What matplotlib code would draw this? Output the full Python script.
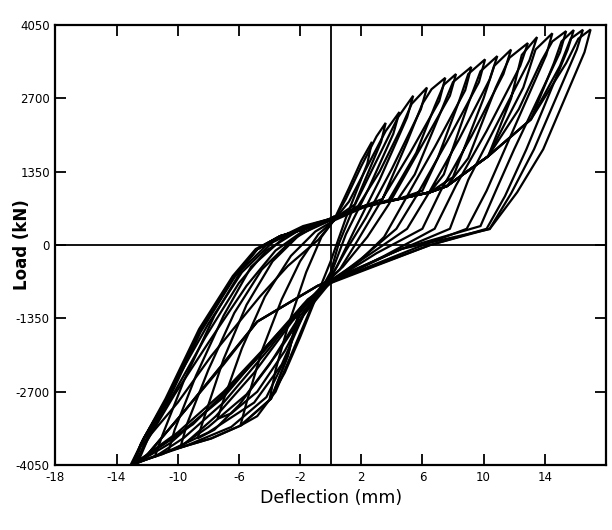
import matplotlib
matplotlib.use("Agg")
import matplotlib.pyplot as plt

plt.rcParams['axes.unicode_minus'] = False
plt.rcParams['font.family'] = ['DejaVu Sans']

# deflection (mm) / load (kN) vertices of each load cycle
cycle_x = [
    [0.2, 1.2, 2.0, 2.7, 2.4, 1.0, 0.0, -1.0, -2.0, -3.0, -4.0, -3.6, -2.8, -1.6, -0.6, 0.2],
    [0.2, 1.0, 2.0, 3.0, 3.6, 3.3, 1.8, 0.5, 0.0, -1.2, -2.4, -3.6, -4.8, -5.9, -5.5, -4.5, -3.2, -2.0, -0.8, 0.2],
    [0.2, 1.2, 2.4, 3.6, 4.5, 4.1, 2.5, 1.0, 0.0, -1.5, -3.0, -4.8, -6.5, -7.4, -7.0, -5.8, -4.3, -2.6, -1.0, 0.2],
    [0.2, 1.6, 3.0, 4.4, 5.4, 5.0, 3.2, 1.6, 0.4, -0.2, -2.0, -4.0, -6.0, -7.6, -8.7, -8.3, -7.0, -5.5, -3.8, -2.0, 0.2],
    [0.2, 1.8, 3.2, 4.6, 5.3, 6.3, 5.9, 4.0, 2.3, 1.0, 0.0, -1.6, -3.5, -5.5, -8.0, -9.8, -9.4, -8.0, -6.3, -4.5, -2.5, -0.8, 0.2],
    [0.2, 2.0, 3.4, 5.0, 6.0, 6.6, 7.5, 7.1, 5.2, 3.1, 1.8, 0.6, -0.3, -2.5, -5.0, -7.5, -9.5, -10.6, -10.2, -8.8, -7.0, -5.2, -3.0, -1.0, 0.2],
    [0.2, 2.2, 3.8, 5.6, 6.8, 7.4, 8.2, 7.8, 5.8, 3.8, 2.4, 0.8, -0.4, -2.2, -4.5, -7.5, -10.5, -12.6, -12.0, -10.2, -8.0, -5.5, -3.6, -1.6, 0.2],
    [0.2, 2.2, 4.4, 5.5, 7.2, 8.0, 9.2, 8.8, 6.8, 4.8, 3.5, 1.5, 0.0, -1.8, -4.0, -7.0, -9.6, -11.5, -11.0, -9.6, -7.6, -5.8, -4.0, -1.8, 0.2],
    [0.2, 2.2, 4.4, 6.0, 7.0, 8.4, 9.0, 10.1, 9.7, 7.6, 5.6, 4.3, 2.0, 0.0, -2.0, -2.8, -4.2, -6.5, -9.5, -12.8, -12.0, -10.6, -8.5, -6.3, -4.8, -3.3, -1.1, 0.2],
    [0.2, 2.2, 4.4, 6.5, 7.4, 9.0, 9.8, 10.9, 10.4, 8.4, 6.4, 5.0, 2.4, 0.0, -0.85, -4.8, -7.0, -9.6, -12.2, -13.0, -12.2, -10.7, -8.5, -6.3, -4.8, -3.3, -1.1, 0.2],
    [0.2, 2.2, 4.4, 6.5, 8.0, 10.0, 10.7, 11.8, 11.3, 9.2, 7.2, 6.0, 3.0, 0.0, -1.2, -3.5, -6.0, -9.0, -12.9, -12.4, -10.4, -8.2, -6.0, -4.2, -2.2, 0.2],
    [0.2, 2.2, 4.4, 6.5, 7.6, 9.0, 10.8, 11.7, 12.9, 12.4, 10.2, 8.2, 6.8, 3.5, 0.0, -1.5, -4.0, -7.0, -10.0, -12.9, -12.4, -10.0, -7.8, -4.6, -2.8, -0.8, 0.2],
    [0.2, 2.2, 4.4, 6.5, 7.6, 10.3, 11.8, 12.5, 13.5, 13.0, 11.0, 9.0, 7.8, 4.0, 0.0, -2.0, -2.8, -3.9, -5.9, -7.8, -10.7, -13.0, -12.2, -10.7, -8.5, -6.3, -4.8, -3.3, -1.1, 0.2],
    [0.2, 2.2, 4.4, 6.5, 7.6, 10.3, 12.6, 13.4, 14.5, 14.1, 11.6, 10.2, 8.9, 5.5, 0.0, -1.8, -3.2, -5.0, -8.0, -11.0, -12.7, -12.1, -10.3, -8.0, -5.8, -3.8, -1.8, 0.2],
    [0.2, 2.2, 4.4, 6.5, 7.6, 10.3, 12.3, 13.8, 14.5, 15.4, 15.0, 12.0, 10.8, 9.8, 4.6, 0.0, -0.85, -4.8, -9.6, -12.2, -13.0, -12.3, -10.8, -8.6, -6.4, -4.9, -3.3, -1.1, 0.2],
    [0.2, 2.2, 4.4, 6.5, 7.6, 10.3, 13.1, 14.6, 15.1, 15.9, 15.5, 12.8, 11.4, 10.2, 6.5, 0.0, -1.5, -4.0, -7.0, -10.0, -12.9, -12.3, -10.7, -8.5, -6.3, -4.8, -3.3, -1.1, 0.2],
    [0.2, 2.2, 4.4, 6.5, 7.6, 10.3, 13.1, 15.0, 15.7, 16.5, 16.1, 13.3, 11.8, 10.4, 6.5, 0.0, -2.0, -2.8, -3.9, -5.9, -7.8, -10.7, -13.0, -12.2, -10.7, -8.5, -6.3, -4.8, -3.3, -1.1, 0.2],
    [0.2, 2.2, 4.4, 6.5, 7.6, 10.3, 13.1, 15.4, 16.2, 17.0, 16.6, 13.9, 12.2, 10.4, 4.6, 0.0, -0.85, -4.8, -9.6, -12.2, -13.1, -12.2, -10.7, -8.5, -6.3, -4.8, -3.3, -1.1, 0.2],
]
cycle_y = [
    [450, 1050, 1550, 1900, 1500, 500, -300, -1000, -1700, -2350, -2850, -2300, -1500, -500, 150, 450],
    [450, 850, 1450, 2000, 2250, 1900, 900, 0, -500, -1100, -1900, -2700, -3150, -3325, -2900, -1950, -1000, -300, 200, 450],
    [450, 800, 1450, 2100, 2450, 2050, 1050, 200, -550, -1150, -1950, -2700, -3100, -3200, -2850, -1900, -950, -200, 250, 450],
    [480, 750, 1550, 2350, 2750, 2350, 1200, 300, -400, -680, -1300, -2200, -2950, -3400, -3560, -3200, -2100, -1100, -300, 200, 480],
    [480, 720, 1350, 2150, 2600, 2900, 2500, 1400, 500, -100, -600, -1200, -2000, -2750, -3350, -3700, -3300, -2300, -1250, -450, 100, 380, 480],
    [500, 700, 850, 1900, 2600, 2870, 3080, 2650, 1700, 716, 100, -450, -700, -1400, -2350, -3150, -3650, -3800, -3400, -2400, -1300, -400, 150, 400, 500],
    [480, 700, 830, 1700, 2550, 2950, 3150, 2750, 1750, 750, 150, -400, -700, -1250, -2000, -2900, -3650, -4000, -3600, -2750, -1800, -750, -100, 300, 480],
    [500, 716, 845, 1300, 2450, 3000, 3280, 2850, 1800, 800, 150, -400, -650, -1100, -1900, -2900, -3550, -3900, -3500, -2500, -1300, -450, 50, 350, 500],
    [500, 716, 845, 1000, 1600, 2650, 3150, 3420, 3000, 1900, 900, 300, -250, -680, -1175, -2000, -2800, -3350, -3700, -4020, -3600, -2850, -1600, -600, -80, 160, 350, 500],
    [520, 716, 845, 973, 1300, 2600, 3200, 3480, 3050, 1950, 950, 300, -200, -650, -750, -1410, -2200, -3070, -3930, -4050, -3550, -2830, -1545, -570, -73, 165, 350, 520],
    [500, 716, 845, 973, 1250, 2700, 3300, 3600, 3150, 2000, 1000, 300, -150, -680, -950, -1650, -2450, -3300, -4030, -3650, -2800, -1700, -700, -100, 250, 500],
    [500, 716, 845, 973, 1085, 1600, 2900, 3450, 3720, 3300, 2100, 1100, 300, -200, -700, -1000, -1800, -2700, -3450, -4040, -3700, -2900, -2040, -940, -385, 100, 450],
    [450, 700, 840, 970, 1085, 1635, 2700, 3500, 3830, 3400, 2300, 1200, 300, -150, -680, -1175, -2040, -2830, -3325, -3560, -3800, -4050, -3550, -2830, -1545, -570, -73, 165, 350, 500],
    [500, 716, 845, 973, 1085, 1635, 2900, 3600, 3900, 3500, 1900, 1000, 300, -60, -680, -1300, -2200, -2900, -3450, -3850, -4010, -3600, -2600, -1450, -500, 50, 330, 500],
    [500, 716, 845, 973, 1085, 1635, 2500, 3400, 3750, 3940, 3550, 1763, 1000, 350, -73, -650, -750, -1410, -3070, -3930, -4050, -3600, -2830, -1545, -570, -73, 165, 350, 500],
    [500, 716, 845, 973, 1085, 1635, 2315, 3350, 3750, 3960, 3600, 1763, 900, 300, 0, -700, -1050, -1800, -2800, -3500, -4040, -3600, -2830, -1545, -570, -73, 165, 350, 500],
    [500, 716, 845, 973, 1085, 1635, 2315, 3300, 3800, 3965, 3600, 1763, 950, 300, 0, -680, -1175, -2040, -2830, -3325, -3560, -3800, -4050, -3550, -2830, -1545, -570, -73, 165, 350, 500],
    [500, 716, 845, 973, 1085, 1635, 2315, 3350, 3800, 3970, 3550, 1763, 973, 294, -73, -650, -750, -1410, -3070, -3930, -4060, -3550, -2830, -1545, -570, -73, 165, 350, 500],
]

x_ticks = [-18, -14, -10, -6, -2, 2, 6, 10, 14]
y_ticks = [-4050, -2700, -1350, 0, 1350, 2700, 4050]

fig = plt.figure(figsize=(6.12, 5.30), dpi=100)
ax = fig.add_axes([0.0905, 0.1226, 0.8995, 0.830])

for xs, ys in zip(cycle_x, cycle_y):
    ax.plot(xs, ys, color='black', lw=1.6, solid_joinstyle='miter')

ax.axhline(0, color='black', lw=1.3)
ax.axvline(0, color='black', lw=1.3)

ax.set_xlim(-18, 18)
ax.set_ylim(-4050, 4050)
ax.set_xticks(x_ticks)
ax.set_yticks(y_ticks)
ax.tick_params(direction='in', length=8, width=1.3, top=True, right=True,
               labelsize=8.5, pad=4)
for s in ax.spines.values():
    s.set_linewidth(1.6)

ax.set_xlabel('Deflection (mm)', fontsize=12.5, labelpad=4)
ax.set_ylabel('Load (kN)', fontsize=12, fontweight='bold')
ax.yaxis.set_label_coords(-0.045, 0.5)

fig.savefig('out.png', dpi=100)
